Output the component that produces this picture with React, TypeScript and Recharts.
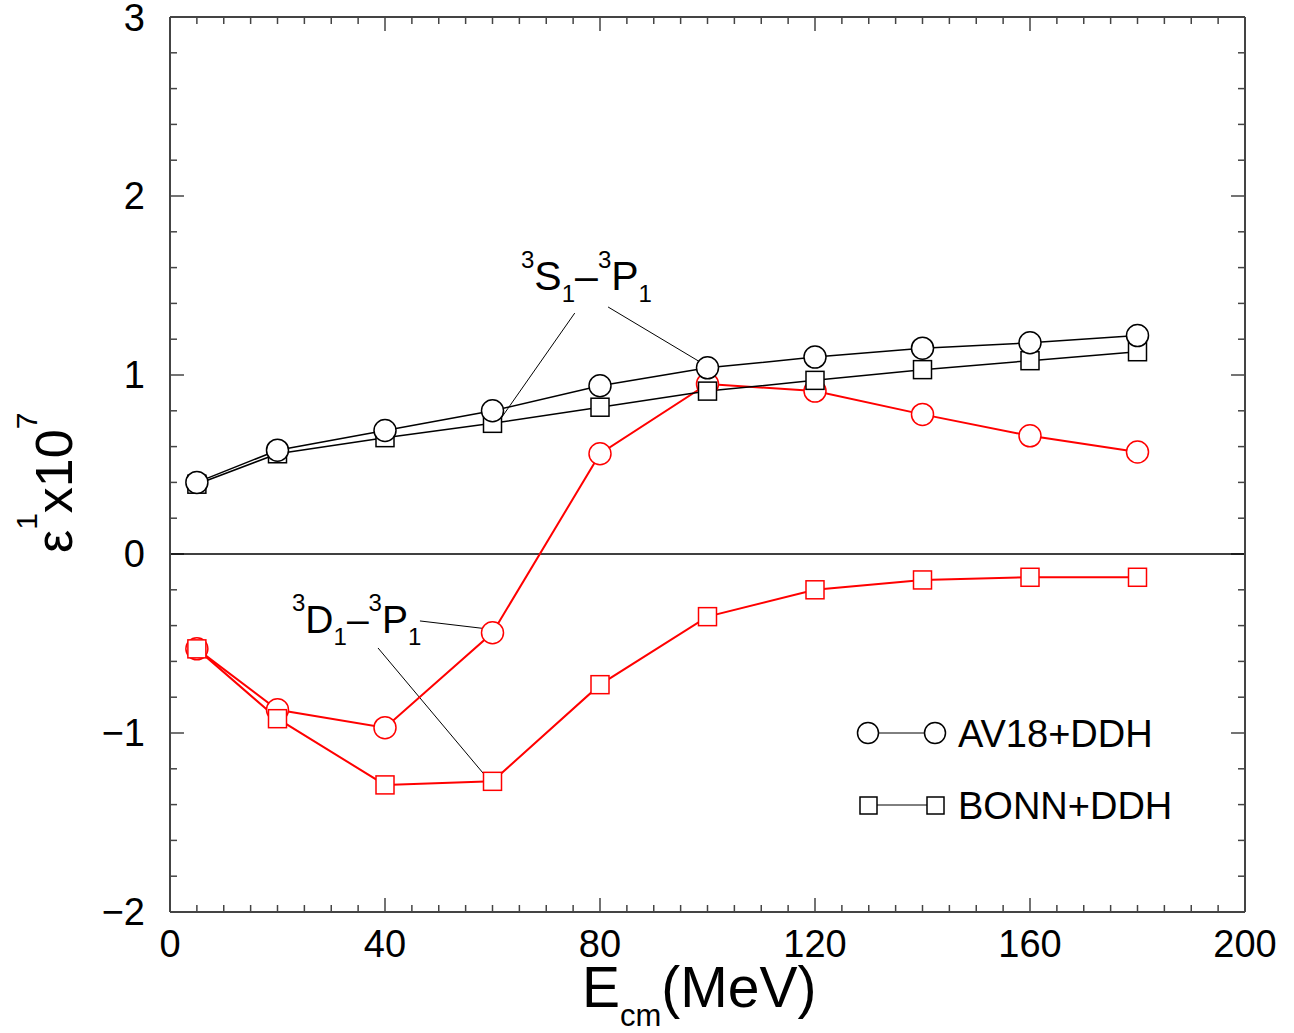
import {
  Customized,
  Line,
  LineChart,
  ReferenceLine,
  XAxis,
  YAxis
} from 'recharts';

const energies = [5, 20, 40, 60, 80, 100, 120, 140, 160, 180];
const av18SP = [0.4, 0.58, 0.69, 0.8, 0.94, 1.04, 1.1, 1.15, 1.18, 1.22];
const bonnSP = [0.39, 0.56, 0.65, 0.73, 0.82, 0.91, 0.97, 1.03, 1.08, 1.13];
const av18DP = [-0.53, -0.87, -0.97, -0.44, 0.56, 0.95, 0.91, 0.78, 0.66, 0.57];
const bonnDP = [-0.53, -0.92, -1.29, -1.27, -0.73, -0.35, -0.2, -0.145, -0.13, -0.13];

const xMajor = [0, 40, 80, 120, 160, 200];
const xMinor = Array.from({ length: 41 }, (_, i) => i * 5).filter((v) => v % 40 !== 0);
const yMajor = [-2, -1, 0, 1, 2, 3];
const yMinor = Array.from({ length: 26 }, (_, i) => Math.round((-2 + i * 0.2) * 10) / 10).filter(
  (v) => !Number.isInteger(v)
);

// pointer lines from the labels to the curves
const spPointers = [
  [{ x: 75.3, y: 1.346 }, { x: 61.4, y: 0.75 }],
  [{ x: 81.5, y: 1.38 }, { x: 98.6, y: 1.073 }]
];
const dpPointers = [
  [{ x: 46.5, y: -0.374 }, { x: 59.2, y: -0.419 }],
  [{ x: 38.7, y: -0.525 }, { x: 59.0, y: -1.251 }]
];

const data = energies.map((e, i) => ({
  e,
  av18SP: av18SP[i],
  bonnSP: bonnSP[i],
  av18DP: av18DP[i],
  bonnDP: bonnDP[i]
}));

const FONT = 'Liberation Sans, Arial, sans-serif';
const AXIS = '#444';

// inward tick lengths, in data units (14px / 7px on this plot)
const X_MAJ = 2.6;
const X_MIN = 1.3;
const Y_MAJ = 0.078;
const Y_MIN = 0.039;

const tickSegments = [
  ...xMajor.flatMap((v) => [
    [{ x: v, y: -2 }, { x: v, y: -2 + Y_MAJ }],
    [{ x: v, y: 3 }, { x: v, y: 3 - Y_MAJ }]
  ]),
  ...xMinor.flatMap((v) => [
    [{ x: v, y: -2 }, { x: v, y: -2 + Y_MIN }],
    [{ x: v, y: 3 }, { x: v, y: 3 - Y_MIN }]
  ]),
  ...yMajor.flatMap((v) => [
    [{ x: 0, y: v }, { x: X_MAJ, y: v }],
    [{ x: 200, y: v }, { x: 200 - X_MAJ, y: v }]
  ]),
  ...yMinor.flatMap((v) => [
    [{ x: 0, y: v }, { x: X_MIN, y: v }],
    [{ x: 200, y: v }, { x: 200 - X_MIN, y: v }]
  ])
];

const circleDot = (color: string) => ({ r: 11, fill: '#fff', stroke: color, strokeWidth: 1.5 });

const squareDot = (color: string) => (props: any) => {
  const { cx, cy, index } = props;
  return (
    <rect
      key={`sq-${color}-${index}`}
      x={cx - 9}
      y={cy - 9}
      width={18}
      height={18}
      fill="#fff"
      stroke={color}
      strokeWidth={1.5}
    />
  );
};

function Overlay() {
  return (
    <g fontFamily={FONT} fill="#000">
      {/* S-P label */}
      <text x={521} y={290} fontSize={41}>
        <tspan fontSize={24} dy={-22}>3</tspan>
        <tspan dy={22}>S</tspan>
        <tspan fontSize={24} dy={12}>1</tspan>
        <tspan dy={-12}>–</tspan>
        <tspan fontSize={24} dy={-22}>3</tspan>
        <tspan dy={22}>P</tspan>
        <tspan fontSize={24} dy={12}>1</tspan>
      </text>
      {/* D-P label */}
      <text x={292} y={633} fontSize={39}>
        <tspan fontSize={24} dy={-22}>3</tspan>
        <tspan dy={22}>D</tspan>
        <tspan fontSize={24} dy={12}>1</tspan>
        <tspan dy={-12}>–</tspan>
        <tspan fontSize={24} dy={-22}>3</tspan>
        <tspan dy={22}>P</tspan>
        <tspan fontSize={24} dy={12}>1</tspan>
      </text>
      {/* x title */}
      <text x={582} y={1007} fontSize={57}>
        E
        <tspan fontSize={31} dy={19}>cm</tspan>
        <tspan dy={-19}>(MeV)</tspan>
      </text>
      {/* y title */}
      <text transform="translate(72,553) rotate(-90)" x={0} y={0} fontSize={52}>
        ε
        <tspan fontSize={30} dy={-35}>1</tspan>
        <tspan dy={35}>x10</tspan>
        <tspan fontSize={30} dy={-35}>7</tspan>
      </text>
      {/* legend */}
      <line x1={868} y1={733} x2={935} y2={733} stroke="#000" strokeWidth={1} />
      <circle cx={868} cy={733} r={10.5} fill="#fff" stroke="#000" strokeWidth={1.5} />
      <circle cx={935} cy={733} r={10.5} fill="#fff" stroke="#000" strokeWidth={1.5} />
      <text x={958} y={747} fontSize={38}>AV18+DDH</text>
      <line x1={868} y1={805} x2={935} y2={805} stroke="#000" strokeWidth={1} />
      <rect x={860} y={797} width={17} height={17} fill="#fff" stroke="#000" strokeWidth={1.5} />
      <rect x={927} y={797} width={17} height={17} fill="#fff" stroke="#000" strokeWidth={1.5} />
      <text x={958} y={819} fontSize={38}>BONN+DDH</text>
    </g>
  );
}

const tickFont = { fontSize: 38, fill: '#000', fontFamily: FONT };
const axisLine = { stroke: AXIS, strokeWidth: 2 };

export default function App() {
  return (
    <div style={{ position: 'absolute', left: 0, top: 0, background: '#fff' }}>
      <LineChart
        width={1294}
        height={1033}
        data={data}
        margin={{ top: 16, right: 48, bottom: 120, left: 169 }}
      >
        <XAxis
          xAxisId="x"
          dataKey="e"
          type="number"
          domain={[0, 200]}
          ticks={xMajor}
          interval={0}
          height={1}
          tickLine={false}
          tickMargin={12}
          tick={tickFont}
          axisLine={axisLine}
        />
        <XAxis
          xAxisId="xt"
          orientation="top"
          type="number"
          domain={[0, 200]}
          ticks={xMajor}
          height={1}
          tick={false}
          tickLine={false}
          axisLine={axisLine}
        />
        <YAxis
          yAxisId="y"
          type="number"
          domain={[-2, 3]}
          ticks={yMajor}
          interval={0}
          width={1}
          tickLine={false}
          tickMargin={19}
          tick={tickFont}
          tickFormatter={(v: number) => (v < 0 ? `−${Math.abs(v)}` : `${v}`)}
          axisLine={axisLine}
        />
        <YAxis
          yAxisId="yr"
          orientation="right"
          type="number"
          domain={[-2, 3]}
          ticks={yMajor}
          width={1}
          tick={false}
          tickLine={false}
          axisLine={axisLine}
        />
        {tickSegments.map((seg, i) => (
          <ReferenceLine
            key={`tick-${i}`}
            xAxisId="x"
            yAxisId="y"
            segment={seg}
            stroke={AXIS}
            strokeWidth={1.5}
          />
        ))}
        <ReferenceLine xAxisId="x" yAxisId="y" y={0} stroke="#000" strokeWidth={1.5} />
        {[...spPointers, ...dpPointers].map((seg, i) => (
          <ReferenceLine
            key={`ptr-${i}`}
            xAxisId="x"
            yAxisId="y"
            segment={seg}
            stroke="#000"
            strokeWidth={1}
          />
        ))}
        <Line
          xAxisId="x"
          yAxisId="y"
          dataKey="av18DP"
          type="linear"
          stroke="#ff0000"
          strokeWidth={2}
          dot={circleDot('#ff0000')}
          isAnimationActive={false}
        />
        <Line
          xAxisId="x"
          yAxisId="y"
          dataKey="bonnDP"
          type="linear"
          stroke="#ff0000"
          strokeWidth={2}
          dot={squareDot('#ff0000')}
          isAnimationActive={false}
        />
        <Line
          xAxisId="x"
          yAxisId="y"
          dataKey="bonnSP"
          type="linear"
          stroke="#000"
          strokeWidth={1.5}
          dot={squareDot('#000')}
          isAnimationActive={false}
        />
        <Line
          xAxisId="x"
          yAxisId="y"
          dataKey="av18SP"
          type="linear"
          stroke="#000"
          strokeWidth={1.5}
          dot={circleDot('#000')}
          isAnimationActive={false}
        />
        <Customized component={Overlay} />
      </LineChart>
    </div>
  );
}
